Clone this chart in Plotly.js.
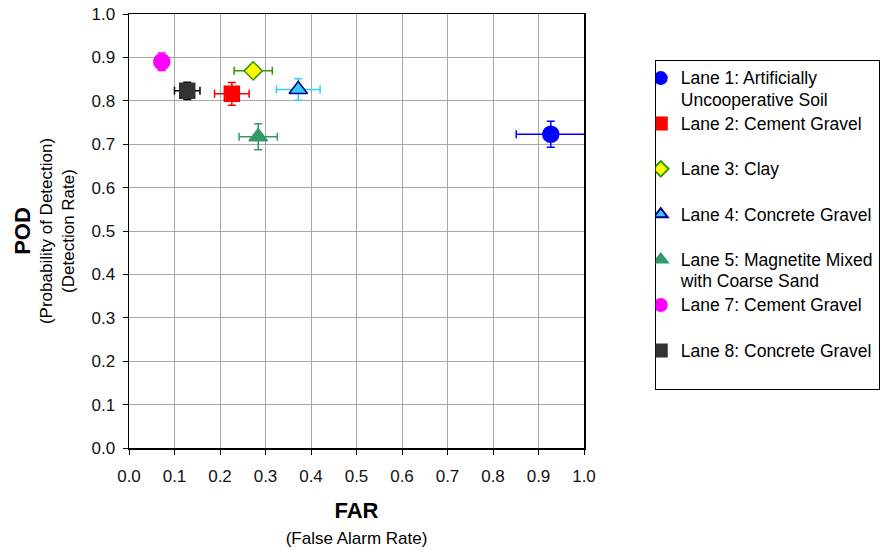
<!DOCTYPE html>
<html>
<head>
<meta charset="utf-8">
<script src="https://cdn.plot.ly/plotly-3.0.1.min.js"></script>
<style>html,body{margin:0;padding:0;background:#fff;}#chart{width:891px;height:550px;}</style>
</head>
<body>
<div id="chart"></div>
<script>
// Data
const laneNames = [
  "Lane 1: Artificially<br>Uncooperative Soil",
  "Lane 2: Cement Gravel",
  "Lane 3: Clay",
  "Lane 4: Concrete Gravel",
  "Lane 5: Magnetite Mixed<br>with Coarse Sand",
  "Lane 7: Cement Gravel",
  "Lane 8: Concrete Gravel"
];
const farValues = [0.927, 0.226, 0.273, 0.372, 0.284, 0.072, 0.128];
const podValues = [0.723, 0.816, 0.869, 0.826, 0.717, 0.890, 0.823];
const farErrors = [0.076, 0.038, 0.042, 0.048, 0.042, 0.010, 0.028];
const podErrors = [0.030, 0.026, 0.008, 0.025, 0.030, 0.020, 0.020];
const tickValues = [0, 0.1, 0.2, 0.3, 0.4, 0.5, 0.6, 0.7, 0.8, 0.9, 1.0];
const tickLabels = ["0.0", "0.1", "0.2", "0.3", "0.4", "0.5", "0.6", "0.7", "0.8", "0.9", "1.0"];

// Styles
const styles = [
  {symbol: "circle", size: 16, color: "#0000ff", line: "#0000ff", err: "#0000ff"},
  {symbol: "square", size: 15, color: "#ff0000", line: "#ff0000", err: "#ff0000"},
  {symbol: "diamond", size: 14, color: "#ffff00", line: "#339900", err: "#339900"},
  {symbol: "triangle-up", size: 16, color: "#33ccff", line: "#000080", err: "#33ccff"},
  {symbol: "triangle-up", size: 16, color: "#339966", line: "#339966", err: "#339966"},
  {symbol: "circle", size: 16, color: "#ff00ff", line: "#ff00ff", err: "#ff00ff"},
  {symbol: "square", size: 15, color: "#333333", line: "#333333", err: "#000000"}
];

// Pad single-line legend labels to two lines so every entry has the same height
function legendLabel(name) {
  const lines = name.split("<br>");
  while (lines.length < 2) lines.push(" ");
  return lines.map(l => "<span style='font-size:17.5px'>" + l + "</span>").join("<br>");
}

const traces = laneNames.map((name, i) => ({
  type: "scatter",
  mode: "markers",
  name: legendLabel(name),
  x: [farValues[i]],
  y: [podValues[i]],
  cliponaxis: false,
  error_x: {type: "constant", value: farErrors[i], color: styles[i].err, thickness: 1.5, width: 4},
  error_y: {type: "constant", value: podErrors[i], color: styles[i].err, thickness: 1.5, width: 4},
  marker: {symbol: styles[i].symbol, size: styles[i].size, color: styles[i].color,
           line: {color: styles[i].line, width: 1.5}}
}));

const fontFam = "Liberation Sans, Arial, sans-serif";

const axisCommon = {
  range: [0, 1],
  tickvals: tickValues,
  ticktext: tickLabels,
  showgrid: true,
  gridcolor: "#a8a8a8",
  gridwidth: 1,
  zeroline: false,
  showline: true,
  linecolor: "#000000",
  linewidth: 1.5,
  mirror: true,
  ticks: "outside",
  ticklen: 5,
  tickcolor: "#000000",
  tickfont: {family: fontFam, size: 17, color: "#111111"}
};

const layout = {
  width: 891,
  height: 550,
  margin: {l: 129, r: 306, t: 14, b: 102},
  paper_bgcolor: "#ffffff",
  plot_bgcolor: "#ffffff",
  font: {family: fontFam, color: "#000000"},
  showlegend: true,
  xaxis: Object.assign({}, axisCommon, {
    ticklabelstandoff: 7,
    title: {text: "<b><span style='font-size:22px'>FAR</span></b><br><span style='font-size:17px'>(False Alarm Rate)</span>",
            font: {size: 20, family: fontFam}, standoff: 19}
  }),
  yaxis: Object.assign({}, axisCommon, {
    ticklabelstandoff: 4,
    title: {text: "<b><span style='font-size:22px'>POD</span></b><br>(Probability of Detection)<br>(Detection Rate)",
            font: {size: 17, family: fontFam}, standoff: 12}
  }),
  legend: {
    x: 1.153, y: 0.894, xanchor: "left", yanchor: "top",
    bgcolor: "#ffffff",
    bordercolor: "#000000",
    borderwidth: 1,
    font: {size: 16.3, family: fontFam, color: "#000000"},
    itemwidth: 30,
    itemsizing: "constant",
    indentation: -15,
    tracegroupgap: 0,
    valign: "top"
  }
};

Plotly.newPlot("chart", traces, layout, {displayModeBar: false, staticPlot: true});
</script>
</body>
</html>
